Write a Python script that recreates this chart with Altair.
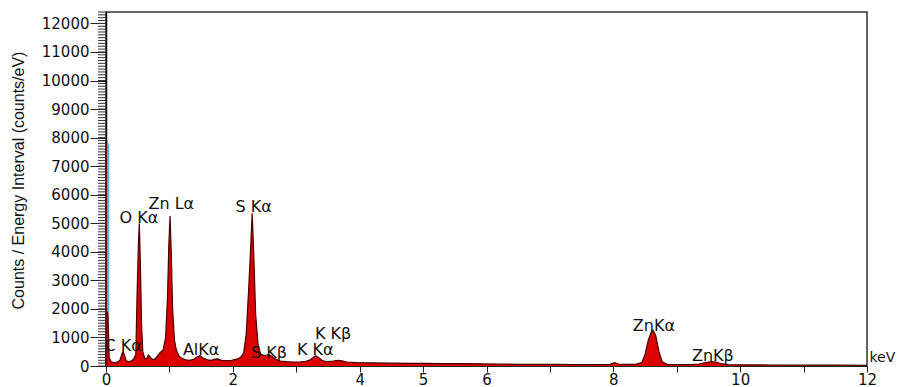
import altair as alt
import pandas as pd

# EDS spectrum (keV, counts/eV)
energy = [0.00, 0.01, 0.03, 0.05, 0.08, 0.12, 0.18, 0.22, 0.25, 0.27, 0.29, 0.32, 0.36, 0.40,
          0.44, 0.47, 0.49, 0.51, 0.525, 0.54, 0.56, 0.58, 0.61, 0.64, 0.67, 0.70, 0.74, 0.78,
          0.82, 0.86, 0.90, 0.94, 0.97, 0.99, 1.01, 1.03, 1.05, 1.08, 1.11, 1.15, 1.20, 1.26,
          1.32, 1.38, 1.44, 1.48, 1.53, 1.60, 1.66, 1.72, 1.76, 1.82, 1.90, 1.98, 2.06, 2.12,
          2.17, 2.21, 2.25, 2.28, 2.305, 2.33, 2.36, 2.40, 2.44, 2.48, 2.52, 2.57, 2.62, 2.68,
          2.75, 2.85, 2.95, 3.05, 3.15, 3.22, 3.28, 3.31, 3.36, 3.42, 3.50, 3.58, 3.66, 3.72,
          3.80, 3.95, 4.2, 4.5, 4.8, 5.0, 5.3, 5.6, 5.9, 6.2, 6.5, 6.8, 7.1, 7.4, 7.7, 7.95,
          8.02, 8.08, 8.2, 8.35, 8.45, 8.50, 8.55, 8.60, 8.63, 8.67, 8.72, 8.77, 8.85, 9.0,
          9.2, 9.35, 9.45, 9.55, 9.62, 9.70, 9.8, 10.0, 10.5, 11.0, 11.5, 12.0]
counts = [0, 2000, 1950, 300, 150, 120, 140, 200, 420, 520, 380, 180, 150, 180,
          260, 400, 2500, 4200, 5000, 3800, 1500, 500, 280, 250, 380, 300, 220, 260,
          380, 480, 560, 1000, 2400, 4200, 5250, 3900, 2000, 900, 550, 350, 260, 220,
          200, 230, 320, 360, 280, 220, 200, 240, 250, 200, 190, 200, 240, 300,
          450, 1100, 2700, 4100, 5350, 3900, 1800, 700, 420, 380, 370, 400, 330, 230,
          170, 150, 140, 140, 160, 220, 320, 360, 280, 180, 150, 170, 200, 180,
          140, 120, 110, 100, 95, 90, 80, 85, 75, 70, 60, 60, 55, 50, 50, 60,
          120, 70, 55, 60, 120, 400, 900, 1200, 1250, 1050, 500, 150, 60, 50,
          50, 70, 120, 150, 140, 80, 50, 40, 35, 30, 30, 25]

# zero-energy noise spike
spike_e = [0.005, 0.035]
spike_base = [0, 1900]
spike_top = [7900, 7800]
spike_col = ["#6a0000", "#3cc4d4"]

# peak labels
lab_text = ["C K\u03b1", "O K\u03b1", "Zn L\u03b1", "S K\u03b1", "AlK\u03b1", "S K\u03b2",
            "K K\u03b1", "K K\u03b2", "ZnK\u03b1", "ZnK\u03b2"]
lab_e = [0.27, 0.52, 1.03, 2.33, 1.50, 2.57, 3.30, 3.58, 8.64, 9.57]
lab_c = [700, 5190, 5680, 5580, 560, 470, 560, 1120, 1400, 350]

# axis ticks
major_y = list(range(0, 12001, 1000))
minor_y = list(range(0, 12401, 100))
x_ticks = list(range(0, 13))
x_labelled = [0, 2, 4, 5, 6, 8, 10, 12]

spec = pd.DataFrame({"e": energy, "c": counts})
spk = pd.DataFrame({"e": spike_e, "b": spike_base, "c": spike_top, "col": spike_col})
labs = pd.DataFrame({"t": lab_text, "e": lab_e, "c": lab_c})
minor = pd.DataFrame({"c": minor_y})

FONT = "DejaVu Sans"

xscale = alt.Scale(domain=[0, 12], nice=False)
yscale = alt.Scale(domain=[0, 12400], nice=False)

xaxis = alt.Axis(
    values=x_ticks, format="d",
    labelExpr="indexof(" + str(x_labelled) + ", datum.value) >= 0 ? datum.label : ''",
    labelOverlap=False,
    tickSize=6, tickColor="#222", domainColor="#222", labelFont=FONT, labelFontSize=15,
    labelColor="#111", labelPadding=0, labelFlush=False, grid=False,
    title="keV", titleX=763, titleY=-9, titleAlign="left", titleBaseline="middle",
    titleFont=FONT, titleFontSize=14, titleFontWeight="normal", titleColor="#111",
)
yaxis = alt.Axis(
    values=major_y, format="d", labelOverlap=False,
    tickSize=16, tickColor="#222", domainColor="#111", domainWidth=1.5, labelFont=FONT,
    labelFontSize=15, labelColor="#111", labelPadding=1, labelFlush=False, grid=False,
    title="Counts / Energy Interval (counts/eV)", titleX=-88, titleY=168,
    titleAngle=270, titleAlign="center", titleBaseline="middle",
    titleFont="Liberation Sans", titleFontSize=16, titleFontWeight="normal", titleColor="#111",
)

X = alt.X("e:Q", scale=xscale, axis=xaxis)
Y = alt.Y("c:Q", scale=yscale, axis=yaxis)

area = alt.Chart(spec).mark_area(color="#dc0000", opacity=1, interpolate="linear").encode(
    x=X, y=Y,
)
outline = alt.Chart(spec).mark_line(color="#4a0000", strokeWidth=1.2, interpolate="linear").encode(
    x=X, y=Y,
)
spike = alt.Chart(spk).mark_rule(strokeWidth=2).encode(
    x=X, y=alt.Y("b:Q", scale=yscale, axis=yaxis), y2="c:Q",
    color=alt.Color("col:N", scale=None),
)
text = alt.Chart(labs).mark_text(font=FONT, fontSize=16, color="#111", baseline="middle").encode(
    x=X, y=Y, text="t:N",
)
# minor tick comb on the y axis
minor_ticks = alt.Chart(minor).mark_rule(color="#333", strokeWidth=1).encode(
    y=Y, x=alt.value(-8), x2=alt.value(0),
)

chart = alt.layer(area, outline, spike, text, minor_ticks).properties(
    width=761, height=354,
    autosize=alt.AutoSizeParams(type="none"),
    padding={"left": 98, "top": 4, "right": 29, "bottom": 21},
    background="white",
).configure_view(stroke="#333", strokeWidth=1.5)

chart.save("out.html", embed_options={"renderer": "svg", "actions": False})
